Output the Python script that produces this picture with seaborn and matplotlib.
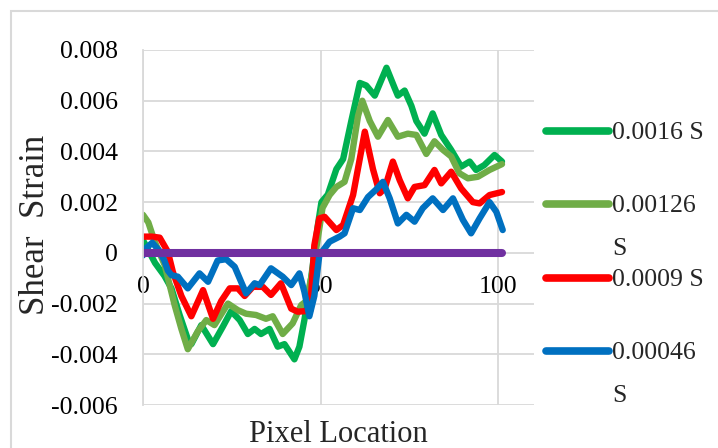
import matplotlib
matplotlib.use("Agg")
import matplotlib.pyplot as plt
from matplotlib.patches import Rectangle
from matplotlib.lines import Line2D
import pandas as pd
import seaborn as sns

# values (pixel location vs shear strain)
x_0016 = [0, 1.5, 3.4, 6, 8, 10.3, 12.6, 13.6, 16.4, 19.7, 22.5, 24.8, 27.2, 29.5, 31.4, 33.2,
          35.6, 37.9, 39.8, 42.6, 44, 45.4, 47.3, 49.2, 50.2, 52, 54.4, 56.3, 58.6, 61, 62.8,
          65.2, 68.5, 70.8, 71.7, 73.6, 75.5, 76.9, 79.2, 81.5, 83.9, 86.7, 89.5, 91.9, 93.7,
          96, 98.9, 101]
y_0016 = [0.0005, 0.0001, -0.0004, -0.0009, -0.0014, -0.00245, -0.0034, -0.0036, -0.00285,
          -0.0036, -0.0029, -0.0023, -0.00265, -0.0032, -0.003, -0.0032, -0.003, -0.0037,
          -0.0036, -0.0042, -0.0037, -0.00265, -0.001, 0.0011, 0.002, 0.0023, 0.0033, 0.0037,
          0.0052, 0.0067, 0.0066, 0.0062, 0.0073, 0.0065, 0.0062, 0.0064, 0.0058, 0.0052,
          0.0047, 0.0055, 0.00465, 0.00406, 0.0034, 0.0036, 0.00327, 0.00346, 0.00386, 0.0036]

x_00126 = [0, 1.5, 3.3, 6.1, 8.9, 10.8, 12.6, 15.4, 17.8, 20.1, 23.9, 26.7, 29, 31.8, 34.6,
           36.5, 39.3, 42.1, 44.5, 46, 48, 50.5, 52.5, 54.4, 56.7, 58.6, 60.5, 61.7, 63.8,
           66.1, 68.9, 71.7, 74.5, 76.9, 79.7, 82, 84.4, 86.7, 89, 91.4, 94.2, 97.5, 101]
y_00126 = [0.0015, 0.0012, 0.00044, -0.00048, -0.00206, -0.003, -0.0038, -0.0031, -0.00265,
           -0.00285, -0.002, -0.00226, -0.0024, -0.00245, -0.0026, -0.0025, -0.0032, -0.00278,
           -0.00206, -0.0019, -0.0005, 0.00177, 0.00228, 0.0026, 0.0028, 0.0037, 0.0054,
           0.006, 0.0052, 0.00458, 0.00524, 0.00458, 0.0047, 0.00465, 0.0039, 0.0044,
           0.00406, 0.0038, 0.00314, 0.00294, 0.003, 0.00327, 0.0035]

x_0009 = [0, 2.5, 4.7, 7, 8.4, 10.8, 13.6, 16.9, 19.7, 22, 24.4, 26.7, 28.6, 30.9, 33.7, 36,
          38.8, 41.7, 43.5, 45.5, 47, 48.2, 49.6, 51.1, 54.4, 56.3, 59.1, 62.4, 64.7, 66.6,
          68, 70.3, 72.2, 74.5, 76.4, 79.2, 82, 83.9, 86.7, 89.5, 92.8, 94.7, 97.5, 101]
y_0009 = [0.00064, 0.00064, 0.0006, 0.00004, -0.00075, -0.0017, -0.0025, -0.00147, -0.0026,
          -0.0019, -0.0014, -0.0014, -0.0017, -0.00134, -0.00134, -0.00166, -0.0012, -0.0022,
          -0.00232, -0.0023, -0.0023, 0.0003, 0.00136, 0.00142, 0.0009, 0.0011, 0.00228,
          0.00478, 0.0033, 0.00235, 0.00254, 0.0036, 0.00287, 0.00215, 0.0026, 0.00267,
          0.00327, 0.00274, 0.0032, 0.00254, 0.002, 0.00195, 0.00228, 0.0024]

x_00046 = [0, 1, 2.6, 4.5, 6, 7, 8, 9.8, 12.6, 15.9, 18.3, 21, 23.4, 25.8, 29, 31.4, 32.8, 36,
           39.3, 41.7, 44, 45.4, 46.8, 48.2, 49.6, 52.5, 55.3, 56.7, 59.1, 61, 63.3, 65.6,
           67.5, 69.4, 71.7, 74.1, 76.4, 78.7, 81.5, 84.4, 87.2, 90, 92.3, 94.7, 97.5, 99.4,
           101.2]
y_00046 = [-0.0001, 0.0002, 0.0004, 0.0001, -0.0003, -0.0007, -0.00088, -0.00094, -0.0014,
           -0.00081, -0.00114, -0.0003, -0.00025, -0.00055, -0.0016, -0.0012, -0.00127,
           -0.00061, -0.00094, -0.00127, -0.00081, -0.00153, -0.0025, -0.0017, -0.0001,
           0.00044, 0.00064, 0.00077, 0.00176, 0.00169, 0.0022, 0.0025, 0.0028, 0.00215,
           0.00116, 0.0015, 0.00123, 0.00176, 0.00215, 0.00169, 0.00215, 0.0013, 0.00077,
           0.00136, 0.002, 0.00162, 0.0009]

x_zero = [0, 101]
y_zero = [0, 0]

series_names = ["0.0016 S", "0.00126 S", "0.0009 S", "0.00046 S"]
legend_labels = ["0.0016 S\n", "0.00126\nS", "0.0009 S\n", "0.00046\nS"]
colors = ["#00B050", "#70AD47", "#FF0000", "#0070C0"]

x_ticks = [0, 50, 100]
x_tick_labels = ["0", "50", "100"]
y_ticks = [-0.006, -0.004, -0.002, 0, 0.002, 0.004, 0.006, 0.008]
y_tick_labels = ["-0.006", "-0.004", "-0.002", "0", "0.002", "0.004", "0.006", "0.008"]

frames = []
for name, xs, ys in zip(series_names, [x_0016, x_00126, x_0009, x_00046],
                        [y_0016, y_00126, y_0009, y_00046]):
    frames.append(pd.DataFrame({"Pixel": xs, "Strain": ys, "Series": name}))
df = pd.concat(frames, ignore_index=True)
zero_df = pd.DataFrame({"Pixel": x_zero, "Strain": y_zero})

sns.set_theme(style="white")
plt.rcParams["font.family"] = ["Liberation Serif", "DejaVu Serif"]

fig = plt.figure(figsize=(7.18, 4.48), dpi=100)
ax = fig.add_axes([143 / 718, 1 - 405 / 448, 391 / 718, 355 / 448])

sns.lineplot(data=df, x="Pixel", y="Strain", hue="Series", hue_order=series_names,
             palette=dict(zip(series_names, colors)), estimator=None, sort=False,
             linewidth=4.6, legend=False, ax=ax)
sns.lineplot(data=zero_df, x="Pixel", y="Strain", color="#7030A0", linewidth=5.8,
             estimator=None, ax=ax)
for line in ax.get_lines():
    line.set_solid_capstyle("round")
    line.set_solid_joinstyle("round")

ax.set_xlim(0, 110)
ax.set_ylim(-0.006, 0.008)
ax.set_xticks(x_ticks)
ax.set_xticklabels(x_tick_labels)
ax.set_yticks(y_ticks)
ax.set_yticklabels(y_tick_labels)
ax.grid(True, color="#D9D9D9", linewidth=1.3)
ax.set_axisbelow(True)

for side in ["top", "right"]:
    ax.spines[side].set_visible(False)
ax.spines["left"].set_color("#D9D9D9")
ax.spines["left"].set_linewidth(1.3)
ax.spines["bottom"].set_position(("data", 0))
ax.spines["bottom"].set_visible(False)

ax.tick_params(axis="y", length=0, pad=18, labelsize=18.5, labelcolor="black")
ax.tick_params(axis="x", length=0, pad=17, labelsize=18.5, labelcolor="black")

ax.set_xlabel("Pixel Location", fontsize=22, va="baseline")
ax.xaxis.set_label_coords(0.5, (405 - 442) / 355)
ax.set_ylabel("Shear  Strain", fontsize=25, va="center")
ax.yaxis.set_label_coords((35 - 143) / 391, (405 - 225) / 355)

handles = [Line2D([], [], color=c, linewidth=5.5, solid_capstyle="round") for c in colors]
leg = ax.legend(handles, legend_labels, loc="upper left",
                bbox_to_anchor=(546 / 718, 1 - 122 / 448), bbox_transform=fig.transFigure,
                frameon=False, fontsize=18.5, handlelength=2.45, handletextpad=0.12,
                labelspacing=0.35, borderpad=0, borderaxespad=0)
for t in leg.get_texts():
    t.set_linespacing(2.2)
for col in leg._legend_handle_box.get_children():
    for item in col.get_children():
        item.align = "top"

# light border around the chart area
fig.patches.append(Rectangle((11 / 718, -0.2), 1.2, 1.2 - 11 / 448, transform=fig.transFigure,
                             fill=False, edgecolor="#D9D9D9", linewidth=1.5, figure=fig))

fig.savefig("out.png", dpi=100)
